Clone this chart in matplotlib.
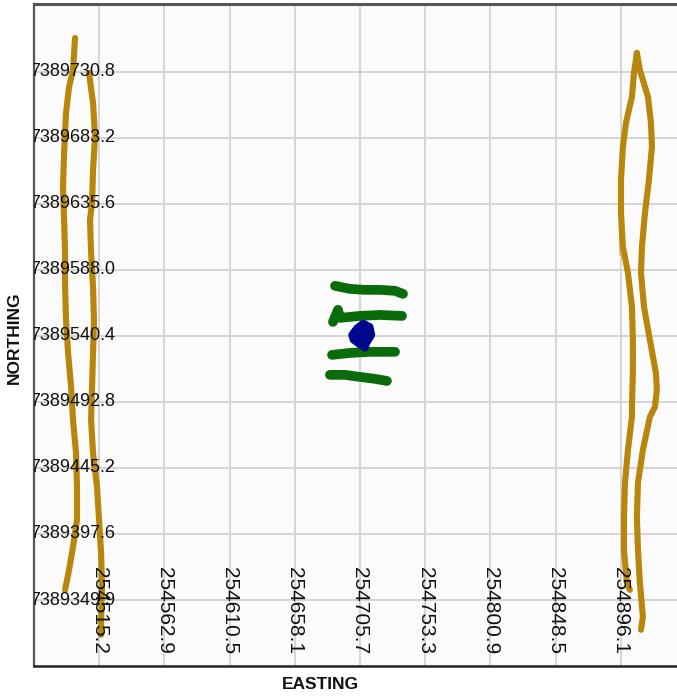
import matplotlib
matplotlib.use("Agg")
import matplotlib.pyplot as plt
from matplotlib.transforms import blended_transform_factory

# Survey tracks (easting, northing)
west_track_a_e = [254497.7, 254496.2, 254493.3, 254491.1, 254489.7, 254488.9, 254489.7, 254490.4,
                  254490.4, 254491.1, 254492.6, 254494.8, 254496.2, 254498.4, 254499.1, 254499.1,
                  254496.2, 254493.3, 254490.4]
west_track_a_n = [7389755.3, 7389732.2, 7389720.0, 7389701.2, 7389672.4, 7389647.9, 7389624.1, 7389600.3,
                  7389575.7, 7389551.9, 7389528.1, 7389503.6, 7389479.8, 7389456.0, 7389431.5, 7389407.7,
                  7389388.2, 7389371.6, 7389357.2]

west_track_b_e = [254507.9, 254510.8, 254512.3, 254510.8, 254510.1, 254508.6, 254509.4, 254510.8,
                  254511.5, 254510.8, 254510.1, 254509.4, 254510.8, 254513.7, 254515.2, 254516.7,
                  254517.4, 254516.7, 254516.7]
west_track_b_n = [7389730.1, 7389708.4, 7389683.9, 7389660.1, 7389636.3, 7389624.1, 7389600.3, 7389575.7,
                  7389551.9, 7389528.1, 7389503.6, 7389479.8, 7389456.0, 7389431.5, 7389407.7, 7389383.9,
                  7389359.4, 7389335.6, 7389324.8]

east_track_a_e = [254907.9, 254905.8, 254904.3, 254899.9, 254897.7, 254896.3, 254896.3, 254897.7,
                  254901.4, 254904.3, 254905.0, 254905.0, 254904.3, 254904.3, 254901.4, 254899.2,
                  254898.5, 254898.5, 254900.6, 254902.8]
east_track_a_n = [7389744.5, 7389730.1, 7389712.8, 7389694.0, 7389676.7, 7389652.9, 7389629.1, 7389604.6,
                  7389585.8, 7389561.3, 7389537.5, 7389513.7, 7389489.2, 7389482.0, 7389458.2, 7389434.4,
                  7389409.9, 7389386.1, 7389362.3, 7389357.2]

east_track_b_e = [254907.9, 254910.1, 254916.0, 254918.2, 254918.9, 254916.7, 254915.2, 254913.8,
                  254911.6, 254910.9, 254913.1, 254917.4, 254921.8, 254922.5, 254921.1, 254917.4,
                  254912.3, 254908.7, 254907.9, 254908.7, 254910.1, 254912.3, 254910.9]
east_track_b_n = [7389744.5, 7389732.2, 7389712.8, 7389694.0, 7389676.7, 7389652.9, 7389640.6, 7389629.1,
                  7389604.6, 7389585.8, 7389561.3, 7389537.5, 7389513.7, 7389501.5, 7389489.2, 7389482.0,
                  7389458.2, 7389434.4, 7389409.9, 7389386.1, 7389362.3, 7389337.7, 7389328.4]

east_faint_e = [254895.5, 254895.3, 254895.5]
east_faint_n = [7389663.7, 7389631.0, 7389598.8]

# Short survey lines in the centre
line1_e = [254687.5, 254698.4, 254709.4, 254720.3, 254731.3, 254737.1]
line1_n = [7389576.5, 7389574.3, 7389573.6, 7389573.6, 7389572.9, 7389570.7]
line2_e = [254686.0, 254689.7, 254691.1, 254705.7, 254720.3, 254736.4]
line2_n = [7389550.5, 7389559.2, 7389553.4, 7389554.8, 7389555.5, 7389554.8]
line3_e = [254685.3, 254698.4, 254713.0, 254731.3]
line3_n = [7389526.7, 7389528.1, 7389528.9, 7389528.9]
line4_e = [254683.8, 254694.8, 254705.7, 254716.7, 254725.4]
line4_n = [7389512.3, 7389512.3, 7389510.8, 7389509.4, 7389507.9]

# Station outline
station_e = [254699.7, 254703.3, 254708.1, 254713.0, 254714.3, 254710.6, 254709.4, 254705.7, 254700.8]
station_n = [7389541.1, 7389546.0, 7389549.6, 7389547.1, 7389541.1, 7389535.1, 7389531.5, 7389533.9, 7389537.5]

x_ticks = [254515.2, 254562.9, 254610.5, 254658.1, 254705.7, 254753.3, 254800.9, 254848.5, 254896.1]
x_tick_labels = ["254515.2", "254562.9", "254610.5", "254658.1", "254705.7",
                 "254753.3", "254800.9", "254848.5", "254896.1"]
y_ticks = [7389349.9, 7389397.6, 7389445.2, 7389492.8, 7389540.4, 7389588.0, 7389635.6, 7389683.2, 7389730.8]
y_tick_labels = ["7389349.9", "7389397.6", "7389445.2", "7389492.8", "7389540.4",
                 "7389588.0", "7389635.6", "7389683.2", "7389730.8"]

x_limits = (254467.7, 254937.2)
y_limits = (7389302.3, 7389779.8)

plt.rcParams['font.family'] = ['Liberation Sans', 'DejaVu Sans']

fig = plt.figure(figsize=(6.77, 6.96), dpi=100)
ax = fig.add_axes([0.0502, 0.0431, 0.9498, 0.9512])
ax.set_facecolor("#fbfbfb")

gold = "#b8860b"
green = "#0a6b0a"
navy = "#00078f"

for xs, ys in [(west_track_a_e, west_track_a_n), (west_track_b_e, west_track_b_n),
               (east_track_a_e, east_track_a_n), (east_track_b_e, east_track_b_n)]:
    ax.plot(xs, ys, color=gold, lw=4.4, solid_capstyle='round', solid_joinstyle='round', zorder=3)
ax.plot(east_faint_e, east_faint_n, color="#dcc08a", lw=1.3, zorder=2)

for xs, ys in [(line1_e, line1_n), (line2_e, line2_n), (line3_e, line3_n), (line4_e, line4_n)]:
    ax.plot(xs, ys, color=green, lw=7.0, solid_capstyle='round', solid_joinstyle='round', zorder=3)

ax.fill(station_e, station_n, color=navy, ec=navy, lw=5.0, joinstyle='round', zorder=4)

ax.set_xlim(*x_limits)
ax.set_ylim(*y_limits)
ax.set_xticks(x_ticks)
ax.set_yticks(y_ticks)
ax.set_xticklabels([])
ax.set_yticklabels([])
ax.tick_params(length=0)
ax.grid(True, color="#d4d4d4", lw=1.4, zorder=0)
ax.set_axisbelow(True)

# Tick labels drawn inside the plotting area
tx = blended_transform_factory(ax.transData, ax.transAxes)
for v, s in zip(x_ticks, x_tick_labels):
    ax.text(v, 0.149, s, rotation=270, ha='center', va='top', fontsize=15,
            color="#111111", transform=tx, zorder=5, clip_on=True)
ty = blended_transform_factory(ax.transAxes, ax.transData)
for v, s in zip(y_ticks, y_tick_labels):
    ax.text(-0.006, v, s, ha='left', va='center', fontsize=13,
            color="#111111", transform=ty, zorder=5, clip_on=True)

ax.spines['right'].set_visible(False)
ax.spines['top'].set_color("#555555")
ax.spines['top'].set_linewidth(2.2)
ax.spines['left'].set_color("#555555")
ax.spines['left'].set_linewidth(1.6)
ax.spines['bottom'].set_color("#222222")
ax.spines['bottom'].set_linewidth(1.8)

fig.text(0.0214, 0.515, "NORTHING", rotation=90, ha='center', va='center',
         fontsize=12.5, fontweight='bold', color="#111111")
fig.text(0.473, 0.017, "EASTING", ha='center', va='center',
         fontsize=12.5, fontweight='bold', color="#111111")

fig.savefig("out.png", dpi=100, facecolor="white")
